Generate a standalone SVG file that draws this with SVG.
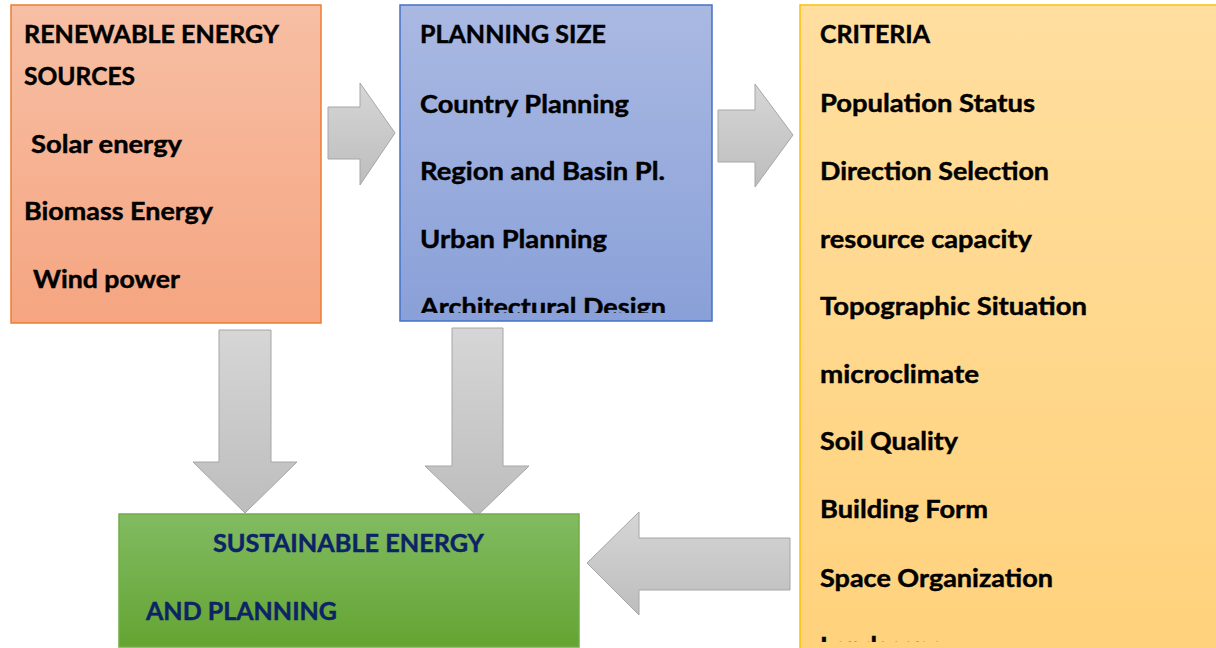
<svg xmlns="http://www.w3.org/2000/svg" width="1216" height="648" viewBox="0 0 1216 648">
<style>
.t{font-family:Lato,"Open Sans","Liberation Sans",sans-serif;font-weight:bold;font-size:25.5px;fill:#000;stroke:#000;stroke-width:0.45px}
.g{fill:#0C2465;stroke:#0C2465}
.arrow{fill:url(#gArrow);stroke:#A6A6A6;stroke-width:1}
</style>
<defs>
<linearGradient id="gOrange" x1="0" y1="0" x2="0" y2="1"><stop offset="0" stop-color="#F7BFA4"/><stop offset="1" stop-color="#F5A581"/></linearGradient>
<linearGradient id="gBlue" x1="0" y1="0" x2="0" y2="1"><stop offset="0" stop-color="#AAB9E2"/><stop offset="1" stop-color="#89A0D8"/></linearGradient>
<linearGradient id="gYellow" x1="0" y1="0" x2="0" y2="1"><stop offset="0" stop-color="#FFDE9F"/><stop offset="1" stop-color="#FFD27C"/></linearGradient>
<linearGradient id="gGreen" x1="0" y1="0" x2="0" y2="1"><stop offset="0" stop-color="#82BB62"/><stop offset="1" stop-color="#64A432"/></linearGradient>
<linearGradient id="gArrow" x1="0" y1="0" x2="0" y2="1"><stop offset="0" stop-color="#D6D6D6"/><stop offset="1" stop-color="#BDBDBD"/></linearGradient>
<clipPath id="cBlue"><rect x="400" y="5" width="312" height="308"/></clipPath>
<clipPath id="cYellow"><rect x="800" y="5" width="420" height="637"/></clipPath>
</defs>

<g id="connectors">
<polygon class="arrow" points="328,107 360,107 360,83 395,133 360,185 360,159 328,159"/>
<polygon class="arrow" points="718,110 755,110 755,84 793,135 755,187 755,162 718,162"/>
<polygon class="arrow" points="219,330 271,330 271,462 297,462 245,513 193,462 219,462"/>
<polygon class="arrow" points="452,328 503,328 503,466 529,466 477,516 425,466 452,466"/>
<polygon class="arrow" points="790,538 790,590 639,590 639,615 587,563 639,512 639,538"/>
</g>

<g id="node-renewable">
<rect x="11" y="5" width="310" height="318" fill="url(#gOrange)" stroke="#ED7D31" stroke-width="1.5"/>
<text class="t" x="24" y="43" textLength="255" lengthAdjust="spacingAndGlyphs">RENEWABLE ENERGY</text>
<text class="t" x="24" y="85" textLength="111" lengthAdjust="spacingAndGlyphs">SOURCES</text>
<text class="t" x="31" y="153" textLength="151" lengthAdjust="spacingAndGlyphs">Solar energy</text>
<text class="t" x="24" y="220" textLength="189" lengthAdjust="spacingAndGlyphs">Biomass Energy</text>
<text class="t" x="33" y="288" textLength="147" lengthAdjust="spacingAndGlyphs">Wind power</text>
</g>

<g id="node-planning">
<rect x="400" y="5" width="312" height="316" fill="url(#gBlue)" stroke="#4472C4" stroke-width="1.5"/>
<g clip-path="url(#cBlue)">
<text class="t" x="420" y="43" textLength="186" lengthAdjust="spacingAndGlyphs">PLANNING SIZE</text>
<text class="t" x="420" y="113" textLength="209" lengthAdjust="spacingAndGlyphs">Country Planning</text>
<text class="t" x="420" y="180" textLength="245" lengthAdjust="spacingAndGlyphs">Region and Basin Pl.</text>
<text class="t" x="420" y="248" textLength="187" lengthAdjust="spacingAndGlyphs">Urban Planning</text>
<text class="t" x="420" y="316" textLength="246" lengthAdjust="spacingAndGlyphs">Architectural Design</text>
</g>
</g>

<g id="node-criteria">
<rect x="800" y="5" width="420" height="650" fill="url(#gYellow)" stroke="#FFC000" stroke-width="1.5"/>
<g clip-path="url(#cYellow)">
<text class="t" x="820" y="43" textLength="110" lengthAdjust="spacingAndGlyphs">CRITERIA</text>
<text class="t" x="820" y="112" textLength="215" lengthAdjust="spacingAndGlyphs">Population Status</text>
<text class="t" x="820" y="180" textLength="229" lengthAdjust="spacingAndGlyphs">Direction Selection</text>
<text class="t" x="820" y="248" textLength="212" lengthAdjust="spacingAndGlyphs">resource capacity</text>
<text class="t" x="820" y="315" textLength="267" lengthAdjust="spacingAndGlyphs">Topographic Situation</text>
<text class="t" x="820" y="383" textLength="159" lengthAdjust="spacingAndGlyphs">microclimate</text>
<text class="t" x="820" y="450" textLength="138" lengthAdjust="spacingAndGlyphs">Soil Quality</text>
<text class="t" x="820" y="518" textLength="168" lengthAdjust="spacingAndGlyphs">Building Form</text>
<text class="t" x="820" y="587" textLength="233" lengthAdjust="spacingAndGlyphs">Space Organization</text>
<text class="t" x="820" y="655" textLength="124" lengthAdjust="spacingAndGlyphs">Landscape</text>
</g>
</g>

<g id="node-sustainable">
<rect x="119" y="514" width="460" height="133" fill="url(#gGreen)" stroke="#70AD47" stroke-width="1.5"/>
<text class="t g" x="213" y="552" textLength="271" lengthAdjust="spacingAndGlyphs">SUSTAINABLE ENERGY</text>
<text class="t g" x="146" y="620" textLength="191" lengthAdjust="spacingAndGlyphs">AND PLANNING</text>
</g>
</svg>
